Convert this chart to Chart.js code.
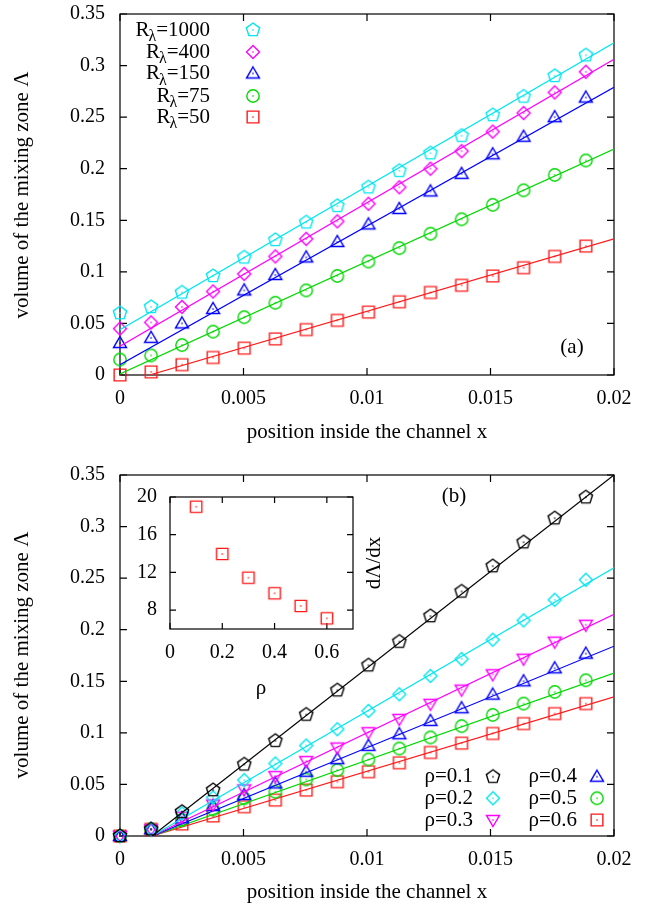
<!DOCTYPE html>
<html>
<head>
<meta charset="utf-8">
<script src="https://cdn.jsdelivr.net/npm/chart.js@4.4.0/dist/chart.umd.min.js"></script>
<style>
  body { margin: 0; background: #fff; width: 650px; height: 905px; position: relative; overflow: hidden; }
  .box { position: absolute; }
</style>
</head>
<body>
<div class="box" style="left:0;top:0"><canvas id="chartA" width="650" height="450"></canvas></div>
<div class="box" style="left:0;top:450px"><canvas id="chartB" width="650" height="455"></canvas></div>
<div class="box" style="left:120px;top:480px"><canvas id="chartC" width="280" height="230"></canvas></div>
<script>
// ---------------------------------------------------------------------------
// data
// ---------------------------------------------------------------------------
const xPos = [0, 0.00126, 0.00251, 0.00377, 0.00503, 0.00629, 0.00754, 0.0088,
              0.01006, 0.01131, 0.01257, 0.01383, 0.01509, 0.01634, 0.0176, 0.01886];

// panel (a)
const rLambda = ['1000', '400', '150', '75', '50'];
const r1000 = [0.060, 0.066, 0.080, 0.096, 0.114, 0.131, 0.148, 0.164, 0.182, 0.198, 0.215, 0.232, 0.252, 0.270, 0.290, 0.310];
const r400  = [0.045, 0.051, 0.066, 0.081, 0.098, 0.115, 0.132, 0.149, 0.166, 0.182, 0.200, 0.217, 0.236, 0.254, 0.274, 0.294];
const r150  = [0.031, 0.036, 0.050, 0.064, 0.082, 0.097, 0.114, 0.129, 0.146, 0.161, 0.178, 0.195, 0.214, 0.231, 0.250, 0.269];
const r75   = [0.015, 0.019, 0.029, 0.042, 0.056, 0.070, 0.082, 0.096, 0.110, 0.123, 0.137, 0.151, 0.165, 0.179, 0.194, 0.208];
const r50   = [0.000, 0.003, 0.010, 0.017, 0.026, 0.035, 0.044, 0.053, 0.061, 0.071, 0.080, 0.087, 0.096, 0.104, 0.115, 0.125];
// fitted lines: [x0, y0, x1, y1]
const fitA = [[0, 0.044, 0.02, 0.322], [0, 0.028, 0.02, 0.306], [0, 0.010, 0.02, 0.279],
              [0, 0.001, 0.02, 0.219], [0.0012, 0, 0.02, 0.132]];

// panel (b)
const rho = ['0.1', '0.2', '0.3', '0.4', '0.5', '0.6'];
const rho1 = [0, 0.0065, 0.0235, 0.0445, 0.0694, 0.0923, 0.1177, 0.1413, 0.1655, 0.1884, 0.2132, 0.2371, 0.2616, 0.2848, 0.3081, 0.3284];
const rho2 = [0, 0.0065, 0.0219, 0.0374, 0.0542, 0.0703, 0.0877, 0.1035, 0.1213, 0.1374, 0.1552, 0.1716, 0.1903, 0.2090, 0.2290, 0.2484];
const rho3 = [0, 0.0065, 0.0187, 0.0306, 0.0452, 0.0581, 0.0726, 0.0858, 0.1006, 0.1135, 0.1281, 0.1419, 0.1568, 0.1719, 0.1884, 0.2048];
const rho4 = [0, 0.0065, 0.0171, 0.0290, 0.0397, 0.0510, 0.0623, 0.0745, 0.0874, 0.0987, 0.1116, 0.1239, 0.1371, 0.1500, 0.1626, 0.1768];
const rho5 = [0, 0.0065, 0.0155, 0.0258, 0.0365, 0.0429, 0.0548, 0.0639, 0.0742, 0.0848, 0.0955, 0.1065, 0.1174, 0.1284, 0.1397, 0.1510];
const rho6 = [0, 0.0065, 0.0116, 0.0194, 0.0284, 0.0348, 0.0445, 0.0526, 0.0623, 0.0710, 0.0810, 0.0900, 0.0994, 0.1090, 0.1187, 0.1284];
const fitB = [[0.0013, 0, 0.02, 0.350], [0.0013, 0, 0.02, 0.260], [0.0013, 0, 0.02, 0.215],
              [0.0013, 0, 0.02, 0.184], [0.0013, 0, 0.02, 0.158], [0.0013, 0, 0.02, 0.135]];

// inset
const insetRho = [0.1, 0.2, 0.3, 0.4, 0.5, 0.6];
const insetSlope = [18.97, 13.96, 11.44, 9.79, 8.44, 7.13];

// ticks
const mainXTicks = [0, 0.005, 0.01, 0.015, 0.02];
const mainYTicks = [0, 0.05, 0.1, 0.15, 0.2, 0.25, 0.3, 0.35];
const insetXTicks = [0, 0.2, 0.4, 0.6];
const insetYTicks = [8, 12, 16, 20];

// ---------------------------------------------------------------------------
const FONT = 'Liberation Serif';
const FS = 20;     // tick labels
const TS = 21;     // titles and legend
const tickFont = { family: FONT, size: FS };
const fmt = v => String(+Number(v).toFixed(4));

const CYAN = '#00e6f0', MAGENTA = '#ff00ff', BLUE = '#0000ff', GREEN = '#00d800', RED = '#ff1a1a', BLACK = '#000000';

function makeMarker(shape, color, r) {
    const s = 20, m = 10;
    const c = document.createElement('canvas');
    c.width = s; c.height = s;
    const g = c.getContext('2d');
    g.strokeStyle = color; g.fillStyle = color; g.lineWidth = 1.4;
    g.beginPath();
    if (shape === 'pentagon') {
        for (let i = 0; i < 5; i++) {
            const a = -Math.PI / 2 + i * 2 * Math.PI / 5;
            const px = m + r * Math.cos(a), py = m + r * Math.sin(a);
            if (i) g.lineTo(px, py); else g.moveTo(px, py);
        }
        g.closePath();
    } else if (shape === 'diamond') {
        g.moveTo(m, m - r); g.lineTo(m + r, m); g.lineTo(m, m + r); g.lineTo(m - r, m); g.closePath();
    } else if (shape === 'triUp') {
        g.moveTo(m, m - r); g.lineTo(m + r, m + r * 0.7); g.lineTo(m - r, m + r * 0.7); g.closePath();
    } else if (shape === 'triDown') {
        g.moveTo(m, m + r); g.lineTo(m + r, m - r * 0.7); g.lineTo(m - r, m - r * 0.7); g.closePath();
    } else if (shape === 'circle') {
        g.arc(m, m, r * 0.95, 0, 2 * Math.PI);
    } else {
        g.rect(m - r * 0.9, m - r * 0.9, r * 1.8, r * 1.8);
    }
    g.stroke();
    g.fillRect(m - 0.7, m - 0.7, 1.4, 1.4);
    return c;
}

// axes with fixed box sizes so the plot frame lands where the layout padding says
function axes(xr, yr, xTicks, yTicks, yW, xH, xPad, yPad) {
    return {
        x: {
            type: 'linear', min: xr[0], max: xr[1],
            afterBuildTicks: s => { s.ticks = xTicks.map(v => ({ value: v })); },
            afterFit: s => { s.height = xH; s.paddingLeft = 0; s.paddingRight = 0; },
            grid: { display: false, drawTicks: false }, border: { display: false },
            ticks: { font: tickFont, color: '#000', padding: xPad, maxRotation: 0, autoSkip: false, callback: v => fmt(v) }
        },
        y: {
            type: 'linear', min: yr[0], max: yr[1],
            afterBuildTicks: s => { s.ticks = yTicks.map(v => ({ value: v })); },
            afterFit: s => { s.width = yW; s.paddingTop = 0; s.paddingBottom = 0; },
            grid: { display: false, drawTicks: false }, border: { display: false },
            ticks: { font: tickFont, color: '#000', padding: yPad, autoSkip: false, callback: v => fmt(v) }
        }
    };
}

// frame with inward ticks on all four sides + free texts + legend
function framePlugin(name, tickLen, texts, legend) {
    return {
        id: 'frame_' + name,
        beforeDatasetsDraw(chart) {
            const { ctx, chartArea: a, scales: { x, y } } = chart;
            ctx.save();
            ctx.strokeStyle = '#000';
            ctx.lineWidth = 1.2;
            ctx.strokeRect(a.left, a.top, a.right - a.left, a.bottom - a.top);
            ctx.beginPath();
            x.ticks.forEach(t => {
                const p = x.getPixelForValue(t.value);
                ctx.moveTo(p, a.bottom); ctx.lineTo(p, a.bottom - tickLen);
                ctx.moveTo(p, a.top); ctx.lineTo(p, a.top + tickLen);
            });
            y.ticks.forEach(t => {
                const p = y.getPixelForValue(t.value);
                ctx.moveTo(a.left, p); ctx.lineTo(a.left + tickLen, p);
                ctx.moveTo(a.right, p); ctx.lineTo(a.right - tickLen, p);
            });
            ctx.stroke();
            ctx.restore();
        },
        afterDraw(chart) {
            const ctx = chart.ctx;
            ctx.save();
            ctx.fillStyle = '#000';
            ctx.textBaseline = 'middle';
            texts.forEach(t => {
                ctx.save();
                ctx.font = (t.size || TS) + 'px "' + FONT + '"';
                ctx.textAlign = 'center';
                ctx.translate(t.x, t.y);
                if (t.rot) ctx.rotate(t.rot);
                ctx.fillText(t.text, 0, 0);
                ctx.restore();
            });
            if (legend) legend(ctx);
            ctx.restore();
        }
    };
}

function scatterSet(values, marker) {
    return {
        data: xPos.map((x, i) => ({ x: x, y: values[i] })),
        showLine: false, pointStyle: marker, pointRadius: 6, clip: false
    };
}
function lineSet(fit, color) {
    return {
        data: [{ x: fit[0], y: fit[1] }, { x: fit[2], y: fit[3] }],
        showLine: true, borderColor: color, borderWidth: 1.2, pointRadius: 0
    };
}

const baseOpts = {
    responsive: false, animation: false, events: [],
    plugins: { legend: { display: false }, tooltip: { enabled: false } }
};

// ---------------------------------------------------------------------------
// panel (a)
// ---------------------------------------------------------------------------
const seriesA = [r1000, r400, r150, r75, r50];
const colorsA = [CYAN, MAGENTA, BLUE, GREEN, RED];
const shapesA = ['pentagon', 'diamond', 'triUp', 'circle', 'square'];
const markersA = shapesA.map((s, i) => makeMarker(s, colorsA[i], s === 'pentagon' ? 7 : 6.5));

const dsA = [];
seriesA.forEach((s, i) => {
    dsA.push(scatterSet(s, markersA[i]));
    dsA.push(lineSet(fitA[i], colorsA[i]));
});

function legendA(ctx) {
    const rows = [30, 52, 73.5, 96, 117];
    rLambda.forEach((v, i) => {
        const y = rows[i], right = 210;
        ctx.font = TS + 'px "' + FONT + '"';
        ctx.textAlign = 'right';
        ctx.fillText('=' + v, right, y);
        const wEq = ctx.measureText('=' + v).width;
        ctx.font = '16px "' + FONT + '"';
        const wL = ctx.measureText('λ').width;
        ctx.textAlign = 'left';
        ctx.fillText('λ', right - wEq - wL, y + 7);
        ctx.font = TS + 'px "' + FONT + '"';
        ctx.textAlign = 'right';
        ctx.fillText('R', right - wEq - wL + 1, y);
        ctx.drawImage(markersA[i], 253 - 10, y - 10);
    });
}

new Chart(document.getElementById('chartA'), {
    type: 'scatter',
    data: { datasets: dsA },
    options: Object.assign({}, baseOpts, {
        layout: { padding: { top: 14, right: 36, left: 0, bottom: 0 } },
        scales: axes([0, 0.02], [0, 0.35], mainXTicks, mainYTicks, 120, 75, 12, 15)
    }),
    plugins: [framePlugin('a', 7, [
        { text: 'volume of the mixing zone Λ', x: 22, y: 195, rot: -Math.PI / 2 },
        { text: 'position inside the channel x', x: 367, y: 432 },
        { text: '(a)', x: 572, y: 347 }
    ], legendA)]
});

// ---------------------------------------------------------------------------
// panel (b)
// ---------------------------------------------------------------------------
const seriesB = [rho1, rho2, rho3, rho4, rho5, rho6];
const colorsB = [BLACK, CYAN, MAGENTA, BLUE, GREEN, RED];
const shapesB = ['pentagon', 'diamond', 'triDown', 'triUp', 'circle', 'square'];
const markersB = shapesB.map((s, i) => makeMarker(s, colorsB[i], s === 'pentagon' ? 7 : 6.5));

const dsB = [];
seriesB.forEach((s, i) => {
    dsB.push(scatterSet(s, markersB[i]));
    dsB.push(lineSet(fitB[i], colorsB[i]));
});

function legendB(ctx) {
    const rows = [326.7, 348.3, 370];
    const cols = [{ right: 473, mk: 493 }, { right: 577, mk: 597 }];
    rho.forEach((v, i) => {
        const c = cols[Math.floor(i / 3)], y = rows[i % 3];
        ctx.font = TS + 'px "' + FONT + '"';
        ctx.textAlign = 'right';
        ctx.fillText('ρ=' + v, c.right, y);
        ctx.drawImage(markersB[i], c.mk - 10, y - 10);
    });
}

new Chart(document.getElementById('chartB'), {
    type: 'scatter',
    data: { datasets: dsB },
    options: Object.assign({}, baseOpts, {
        layout: { padding: { top: 25, right: 36, left: 0, bottom: 0 } },
        scales: axes([0, 0.02], [0, 0.35], mainXTicks, mainYTicks, 120, 69, 12, 15)
    }),
    plugins: [framePlugin('b', 7, [
        { text: 'volume of the mixing zone Λ', x: 22, y: 205, rot: -Math.PI / 2 },
        { text: 'position inside the channel x', x: 367, y: 442 },
        { text: '(b)', x: 454, y: 46 }
    ], legendB)]
});

// ---------------------------------------------------------------------------
// inset of panel (b)
// ---------------------------------------------------------------------------
const insetMarker = makeMarker('square', RED, 6.3);
new Chart(document.getElementById('chartC'), {
    type: 'scatter',
    data: {
        datasets: [{
            data: insetRho.map((r, i) => ({ x: r, y: insetSlope[i] })),
            showLine: false, pointStyle: insetMarker, pointRadius: 6, clip: false
        }]
    },
    options: Object.assign({}, baseOpts, {
        layout: { padding: { top: 17, right: 47, left: 0, bottom: 0 } },
        scales: axes([0, 0.7], [6, 20], insetXTicks, insetYTicks, 50, 81, 12, 13)
    }),
    plugins: [framePlugin('c', 6, [
        { text: 'ρ', x: 141, y: 208 },
        { text: 'dΛ/dx', x: 254, y: 83, rot: -Math.PI / 2 }
    ], null)]
});
</script>
</body>
</html>
